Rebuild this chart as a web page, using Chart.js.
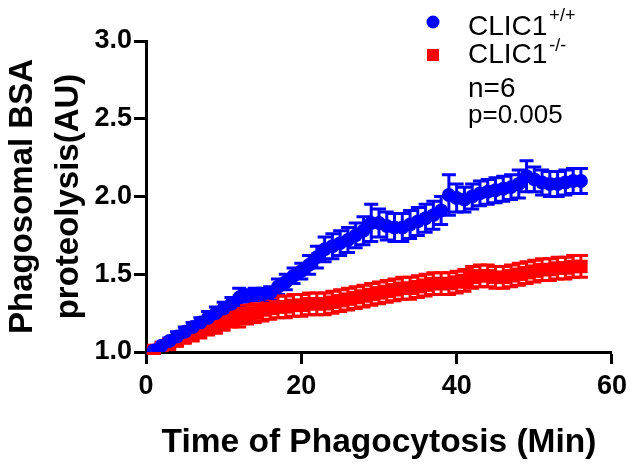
<!DOCTYPE html>
<html>
<head>
<meta charset="utf-8">
<script src="https://cdn.jsdelivr.net/npm/chart.js@4.4.0/dist/chart.umd.min.js"></script>
<style>
  body { margin: 0; background: #fff; }
  #wrap { width: 633px; height: 476px; }
</style>
</head>
<body>
<div id="wrap"><canvas id="myChart" width="633" height="476"></canvas></div>
<script>
var minutes = [];
for (var i = 1; i <= 56; i++) minutes.push(i);

var wildType = [1.01,1.04,1.07,1.10,1.13,1.16,1.19,1.22,1.25,1.28,
  1.31,1.35,1.36,1.37,1.37,1.38,1.42,1.45,1.49,1.52,
  1.56,1.61,1.66,1.68,1.70,1.72,1.75,1.78,1.83,1.83,
  1.81,1.80,1.80,1.82,1.84,1.86,1.88,1.91,2.01,1.99,
  1.98,2.00,2.02,2.03,2.04,2.05,2.06,2.08,2.13,2.11,
  2.09,2.08,2.08,2.09,2.10,2.10];
var wildTypeErr = [0.02,0.02,0.02,0.03,0.03,0.03,0.03,0.04,0.04,0.04,
  0.04,0.06,0.04,0.04,0.04,0.04,0.05,0.05,0.05,0.05,
  0.06,0.07,0.08,0.08,0.08,0.08,0.08,0.09,0.12,0.09,
  0.09,0.09,0.09,0.09,0.09,0.09,0.09,0.09,0.13,0.09,
  0.08,0.08,0.08,0.08,0.08,0.08,0.08,0.09,0.10,0.08,
  0.08,0.08,0.08,0.08,0.08,0.08];

var knockOut = [1.01,1.03,1.05,1.07,1.09,1.11,1.13,1.15,1.17,1.19,
  1.21,1.22,1.24,1.25,1.27,1.28,1.29,1.29,1.30,1.30,
  1.31,1.31,1.31,1.32,1.33,1.34,1.35,1.36,1.37,1.38,
  1.39,1.40,1.41,1.41,1.42,1.43,1.44,1.44,1.44,1.45,
  1.46,1.48,1.49,1.49,1.48,1.48,1.49,1.50,1.51,1.52,
  1.53,1.53,1.54,1.54,1.55,1.55];
var knockOutErr = [0.02,0.02,0.03,0.03,0.03,0.04,0.04,0.04,0.05,0.05,
  0.05,0.06,0.06,0.06,0.07,0.07,0.07,0.07,0.07,0.07,
  0.07,0.07,0.07,0.07,0.07,0.07,0.07,0.07,0.07,0.07,
  0.07,0.07,0.07,0.07,0.07,0.07,0.07,0.07,0.07,0.07,
  0.07,0.07,0.07,0.07,0.07,0.07,0.07,0.07,0.07,0.07,
  0.07,0.07,0.07,0.07,0.07,0.07];

var xTicks = [0, 20, 40, 60];
var yTicks = [1.0, 1.5, 2.0, 2.5, 3.0];

function points(ys) {
  return minutes.map(function (m, k) { return {x: m, y: ys[k]}; });
}

var errors = [wildTypeErr, knockOutErr];
var capHalf = [7, 7];
var fontName = "'Liberation Sans', Arial, sans-serif";

// error bars drawn under the markers
var errorBars = {
  id: 'errorBars',
  beforeDatasetsDraw: function (chart) {
    var ctx = chart.ctx;
    var ys = chart.scales.y;
    chart.data.datasets.forEach(function (ds, d) {
      var meta = chart.getDatasetMeta(d);
      var c = capHalf[d];
      ctx.save();
      ctx.strokeStyle = ds.borderColor;
      ctx.lineWidth = 3;
      meta.data.forEach(function (pt, k) {
        var v = ds.data[k].y, e = errors[d][k];
        var top = ys.getPixelForValue(v + e);
        var bot = ys.getPixelForValue(v - e);
        ctx.beginPath();
        ctx.moveTo(pt.x, top); ctx.lineTo(pt.x, bot);
        ctx.moveTo(pt.x - c, top); ctx.lineTo(pt.x + c, top);
        ctx.moveTo(pt.x - c, bot); ctx.lineTo(pt.x + c, bot);
        ctx.stroke();
      });
      ctx.restore();
    });
  }
};

// legend with superscripts and the n / p note
var legendNote = {
  id: 'legendNote',
  afterDraw: function (chart) {
    var ctx = chart.ctx;
    ctx.save();
    ctx.fillStyle = 'rgb(0,0,255)';
    ctx.beginPath(); ctx.arc(433, 22, 6.5, 0, Math.PI * 2); ctx.fill();
    ctx.fillStyle = 'rgb(255,0,0)';
    ctx.fillRect(427, 49, 12, 12);
    ctx.fillStyle = '#000';
    ctx.textBaseline = 'alphabetic';
    ctx.font = '28px ' + fontName;
    ctx.fillText('CLIC1', 468, 35);
    var w = ctx.measureText('CLIC1').width;
    ctx.fillText('CLIC1', 468, 63);
    ctx.fillText('n=6', 468, 97);
    ctx.font = '26px ' + fontName;
    ctx.fillText('p=0.005', 468, 123);
    ctx.font = '18px ' + fontName;
    ctx.fillText('+/+', 468 + w + 2, 21);
    ctx.fillText('-/-', 468 + w + 2, 51);
    ctx.restore();
  }
};

new Chart("myChart", {
  type: "scatter",
  data: {
    datasets: [{
      label: 'CLIC1+/+',
      data: points(wildType),
      borderColor: 'rgb(0,0,255)',
      backgroundColor: 'rgb(0,0,255)',
      pointStyle: 'circle',
      pointRadius: 7,
      pointBorderWidth: 0
    }, {
      label: 'CLIC1-/-',
      data: points(knockOut),
      borderColor: 'rgb(255,0,0)',
      backgroundColor: 'rgb(255,0,0)',
      pointStyle: 'rect',
      pointRadius: 9.5,
      pointBorderWidth: 0
    }]
  },
  plugins: [errorBars, legendNote],
  options: {
    responsive: false,
    animation: false,
    layout: {padding: {top: 41, right: 21, left: 0, bottom: 0}},
    plugins: {legend: {display: false}, tooltip: {enabled: false}},
    scales: {
      x: {
        type: 'linear', min: 0, max: 60,
        afterBuildTicks: function (s) { s.ticks = xTicks.map(function (v) { return {value: v}; }); },
        afterFit: function (s) { s.height = 124; },
        border: {color: '#000', width: 3},
        grid: {drawOnChartArea: false, tickLength: 12, tickWidth: 3, tickColor: '#000'},
        ticks: {color: '#000', padding: 6, maxRotation: 0, font: {family: fontName, size: 27, weight: 'bold'}},
        title: {display: true, text: 'Time of Phagocytosis (Min)', color: '#000', padding: {bottom: 13, top: 0},
          font: {family: fontName, size: 33.5, weight: 'bold'}}
      },
      y: {
        min: 1, max: 3,
        afterBuildTicks: function (s) { s.ticks = yTicks.map(function (v) { return {value: v}; }); },
        afterFit: function (s) { s.width = 146; },
        border: {color: '#000', width: 3},
        grid: {drawOnChartArea: false, tickLength: 12, tickWidth: 3, tickColor: '#000'},
        ticks: {color: '#000', padding: 2, font: {family: fontName, size: 27, weight: 'bold'},
          callback: function (v) { return v.toFixed(1); }},
        title: {display: true, text: ['Phagosomal BSA', 'proteolysis(AU)'], color: '#000', padding: {top: 0, bottom: 0},
          font: {family: fontName, size: 33, weight: 'bold', lineHeight: 1.4}}
      }
    }
  }
});
</script>
</body>
</html>
